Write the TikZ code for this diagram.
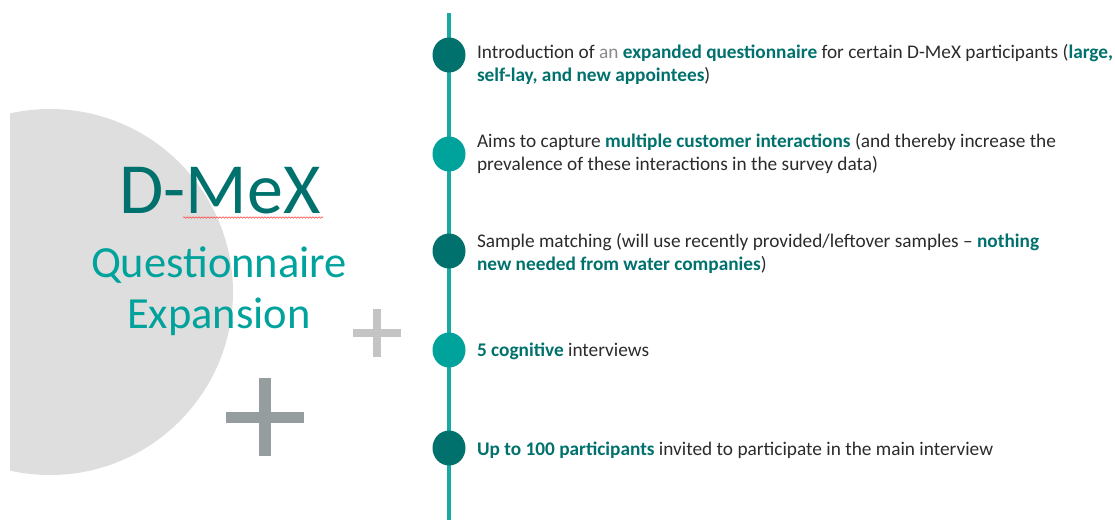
\documentclass[tikz,border=0pt]{standalone}
\usepackage{fontspec}
\setmainfont{Carlito}
\usepackage{xcolor}
\usetikzlibrary{shapes.geometric,decorations.pathmorphing}
\definecolor{slidedark}{HTML}{00716D}
\definecolor{slideteal}{HTML}{00A29C}
\definecolor{slideline}{HTML}{17A9A4}
\definecolor{slidetext}{HTML}{2B2B2B}
\definecolor{slidegray}{HTML}{8A8A8A}
\definecolor{slidedisc}{HTML}{DEDEDE}
\definecolor{slideplus}{HTML}{C4C4C4}
\definecolor{slideplusdark}{HTML}{959D9E}
\newcommand{\keyword}[1]{\textbf{\color{slidedark}#1}}

\begin{document}
\begin{tikzpicture}[x=1pt,y=-1pt,font=\fontsize{19.3}{23.5}\selectfont,
  every node/.style={inner sep=0pt,outer sep=0pt},
  stepdot/.style={ellipse,minimum width=33pt,minimum height=35pt},
  item/.style={anchor=base west,align=left,text=slidetext},
  plussmall/.style={slideplus,line width=7.5pt},
  plusbig/.style={slideplusdark,line width=11.5pt}]
\useasboundingbox (0,0) rectangle (1115,520);
\begin{scope}
\clip (10,0) rectangle (1115,520);
\fill[slidedisc] (50,292) circle (183);
\end{scope}
\draw[plussmall] (353,333) -- (401,333) (377,309) -- (377,357);
\draw[plusbig] (226,417.5) -- (304,417.5) (265,378) -- (265,456);
\node[anchor=base,text=slidedark,font=\fontsize{72}{80}\selectfont] (title) at (220,213) {D-MeX};
\draw[red!75,line width=0.5pt,decorate,decoration={snake,segment length=3pt,amplitude=0.8pt}] (183,217.5) -- (323,217.5);
\node[anchor=base,text=slideteal,font=\fontsize{44.5}{51}\selectfont] (sub1) at (219,277) {Questionnaire};
\node[anchor=base,text=slideteal,font=\fontsize{44.5}{51}\selectfont] (sub2) at (219,328) {Expansion};
\coordinate (tltop) at (449,13);
\coordinate (tlbot) at (449,520);
\draw[slideline,line width=3.2pt] (tltop) -- (tlbot);
\node[stepdot,fill=slidedark] (dot1) at (449,55) {};
\node[stepdot,fill=slideteal] (dot2) at (449,154) {};
\node[stepdot,fill=slidedark] (dot3) at (449,251) {};
\node[stepdot,fill=slideteal] (dot4) at (449,350) {};
\node[stepdot,fill=slidedark] (dot5) at (449,448) {};
% two-line items sit on the baseline of their last line
\node[item] (item1) at (477,81.5) {Introduction of {\color{slidegray}an} \keyword{expanded questionnaire} for certain D-MeX participants (\keyword{large,}\\\keyword{self-lay, and new appointees})};
\node[item] (item2) at (477,170.5) {Aims to capture \keyword{multiple customer interactions} (and thereby increase the\\prevalence of these interactions in the survey data)};
\node[item] (item3) at (477,270.5) {Sample matching (will use recently provided/leftover samples -- \keyword{nothing}\\\keyword{new needed from water companies})};
\node[item] (item4) at (477,356) {\keyword{5 cognitive} interviews};
\node[item] (item5) at (477,455) {\keyword{Up to 100 participants} invited to participate in the main interview};
\end{tikzpicture}
\end{document}
